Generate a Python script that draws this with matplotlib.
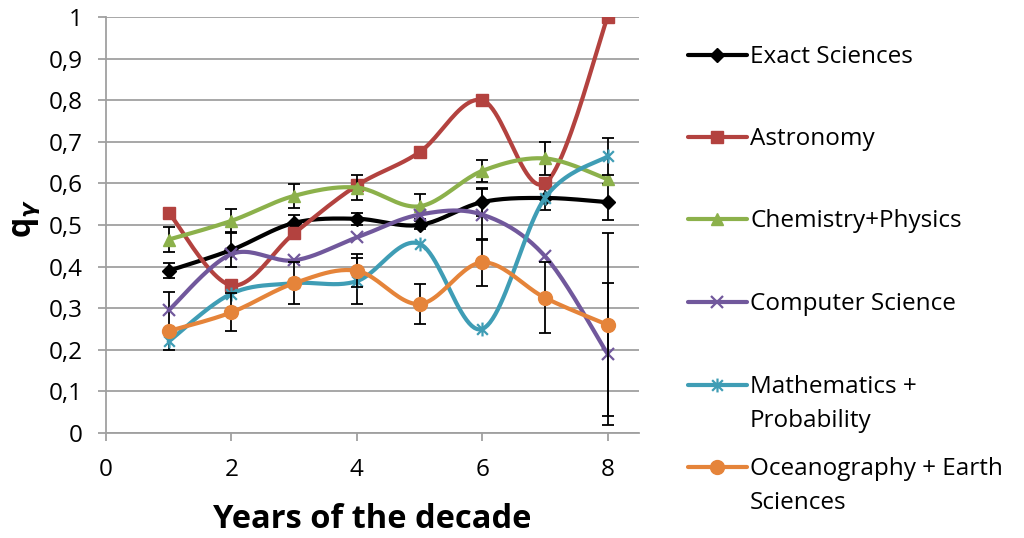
import numpy as np
import matplotlib
matplotlib.use("Agg")
import matplotlib.pyplot as plt
from matplotlib.lines import Line2D
from matplotlib.path import Path
from matplotlib.ticker import FuncFormatter, MultipleLocator

plt.rcParams['font.family'] = ['Open Sans', 'DejaVu Sans']
plt.rcParams['mathtext.fontset'] = 'custom'
plt.rcParams['mathtext.bf'] = 'Open Sans:bold'
plt.rcParams['mathtext.rm'] = 'Open Sans'

# data
years = [1, 2, 3, 4, 5, 6, 7, 8]
labels = ['Exact Sciences', 'Astronomy', 'Chemistry+Physics', 'Computer Science',
          'Mathematics +\nProbability', 'Oceanography + Earth\nSciences']

exact = [0.39, 0.44, 0.505, 0.515, 0.50, 0.555, 0.565, 0.555]
astronomy = [0.53, 0.355, 0.48, 0.595, 0.675, 0.80, 0.60, 1.0]
chem_phys = [0.465, 0.51, 0.57, 0.59, 0.545, 0.63, 0.66, 0.61]
comp_sci = [0.295, 0.43, 0.415, 0.47, 0.525, 0.525, 0.425, 0.19]
math_prob = [0.22, 0.335, 0.36, 0.365, 0.455, 0.25, 0.565, 0.665]
ocean = [0.245, 0.29, 0.36, 0.39, 0.31, 0.41, 0.325, 0.26]

exact_err = [0.018, 0.04, 0.02, 0.015, 0.01, 0.033, 0.03, 0.043]
astronomy_err = [0, 0, 0, 0, 0, 0, 0, 0]
chem_phys_err = [0.03, 0.028, 0.028, 0.03, 0.03, 0.026, 0.04, 0.0]
comp_sci_err = [0.045, 0, 0, 0, 0, 0.062, 0, 0.17]
math_prob_err = [0.02, 0, 0, 0.056, 0, 0, 0, 0.045]
ocean_err = [0, 0.046, 0.05, 0.04, 0.048, 0.057, 0.085, 0.22]

series = [exact, astronomy, chem_phys, comp_sci, math_prob, ocean]
errors = [exact_err, astronomy_err, chem_phys_err, comp_sci_err, math_prob_err, ocean_err]
colors = ['#000000', '#B3423F', '#8CB14B', '#71589C', '#3F9DB5', '#E5843A']

# excel-like star marker: an x with a vertical bar
star = Path([(-1, -1), (1, 1), (-1, 1), (1, -1), (0, -1.3), (0, 1.3)],
            [Path.MOVETO, Path.LINETO, Path.MOVETO, Path.LINETO, Path.MOVETO, Path.LINETO])
markers = ['D', 's', '^', 'x', star, 'o']
msizes = [7, 9, 9, 9, 10, 10]


def smooth(x, y, n=25):
    # catmull-rom style bezier like excel's smoothed lines
    pts = np.column_stack([x, y]).astype(float)
    out = [pts[0]]
    t = np.linspace(0, 1, n)[1:, None]
    for i in range(len(pts) - 1):
        p0 = pts[i - 1] if i > 0 else pts[i]
        p1, p2 = pts[i], pts[i + 1]
        p3 = pts[i + 2] if i + 2 < len(pts) else pts[i + 1]
        c1 = p1 + (p2 - p0) / 6
        c2 = p2 - (p3 - p1) / 6
        seg = (1 - t)**3 * p1 + 3 * (1 - t)**2 * t * c1 + 3 * (1 - t) * t**2 * c2 + t**3 * p2
        out.extend(seg)
    return np.array(out)


fig = plt.figure(figsize=(10.24, 5.38), dpi=100)
ax = fig.add_axes([106 / 1024, 105 / 538, 533 / 1024, 416 / 538])

for i, (ys, err) in enumerate(zip(series, errors)):
    err = np.array(err)
    mask = err > 0
    if mask.any():
        ax.errorbar(np.array(years)[mask], np.array(ys)[mask], yerr=err[mask], fmt='none',
                    ecolor='black', elinewidth=1.3, capsize=4.5, capthick=1.3, zorder=3 + 2 * i)
    sm = smooth(years, ys)
    ax.plot(sm[:, 0], sm[:, 1], color=colors[i], lw=3, solid_capstyle='round', zorder=4 + 2 * i)
    ax.plot(years, ys, ls='none', marker=markers[i], ms=msizes[i], color=colors[i],
            mec=colors[i], mew=1.6 if i in (3, 4) else 1, zorder=4 + 2 * i)

ax.set_xlim(0, 8.5)
ax.set_ylim(0, 1)
ax.xaxis.set_major_locator(MultipleLocator(2))
ax.yaxis.set_major_locator(MultipleLocator(0.1))
ax.yaxis.set_major_formatter(FuncFormatter(lambda v, p: ('%.1f' % v).replace('.', ',') if 0 < v < 1 else '%d' % round(v)))
ax.grid(axis='y', color='#a0a0a0', lw=1.3)
ax.set_axisbelow(True)
for s in ['top', 'right']:
    ax.spines[s].set_visible(False)
for s in ['left', 'bottom']:
    ax.spines[s].set_color('#a0a0a0')
    ax.spines[s].set_linewidth(1.3)
ax.tick_params(colors='#a0a0a0', labelcolor='black', labelsize=17.5, length=6, width=1.3)
ax.tick_params(axis='x', pad=12)
ax.tick_params(axis='y', pad=11)

ax.set_xlabel('Years of the decade', fontsize=23.5, fontweight='bold')
ax.xaxis.set_label_coords(0.5, -87 / 416)
ax.xaxis.label.set_va('center')
fig.text(26 / 1024, 1 - 218 / 538, r'$\mathbf{q}_{\boldsymbol{\gamma}}$', fontsize=23,
         rotation=90, ha='center', va='center')

# legend drawn by hand so two-line labels keep the sample on the first line
leg_y = [55, 137, 219, 302, 385, 467]
for i, lab in enumerate(labels):
    yf = 1 - leg_y[i] / 538
    fig.add_artist(Line2D([688 / 1024, 747 / 1024], [yf, yf], color=colors[i], lw=3,
                          solid_capstyle='round', transform=fig.transFigure))
    fig.add_artist(Line2D([717 / 1024], [yf], marker=markers[i], ms=msizes[i], color=colors[i],
                          mew=1.6 if i in (3, 4) else 1, transform=fig.transFigure))
    fig.text(750 / 1024, yf + 10 / 538, lab, fontsize=17.5, ha='left', va='top', linespacing=1.55)

fig.savefig('out.png', dpi=100)
